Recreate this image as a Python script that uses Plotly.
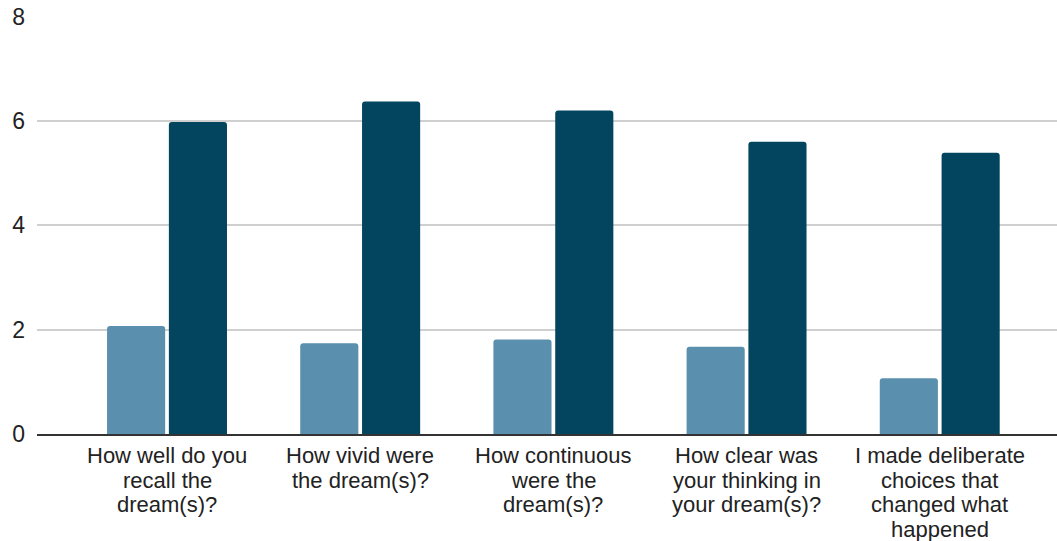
import plotly.graph_objects as go

categories = [
    ["How well do you", "recall the", "dream(s)?"],
    ["How vivid were", "the dream(s)?"],
    ["How continuous", "were the", "dream(s)?"],
    ["How clear was", "your thinking in", "your dream(s)?"],
    ["I made deliberate", "choices that", "changed what", "happened"],
]
series_a = [2.07, 1.74, 1.81, 1.67, 1.07]
series_b = [5.98, 6.37, 6.20, 5.60, 5.39]
y_ticks = [0, 2, 4, 6, 8]

x = list(range(len(categories)))

fig = go.Figure()
fig.add_trace(go.Bar(x=x, y=series_a, marker=dict(color="#5a8fad", line=dict(width=0)), name="A"))
fig.add_trace(go.Bar(x=x, y=series_b, marker=dict(color="#03445f", line=dict(width=0)), name="B"))

annotations = []
for i, lines in enumerate(categories):
    for k, line in enumerate(lines):
        annotations.append(dict(
            x=i, xref="x", y=0, yref="paper",
            text=line, showarrow=False,
            xanchor="center", yanchor="top",
            yshift=-(7 + k * 24.6),
            font=dict(family="Liberation Sans, Arial", size=22, color="#222222"),
        ))

fig.update_layout(
    width=1057, height=541,
    margin=dict(l=37, r=0, t=16, b=107),
    paper_bgcolor="white", plot_bgcolor="white",
    barmode="group", bargap=0.36, bargroupgap=0.06,
    barcornerradius=3,
    showlegend=False,
    font=dict(family="Liberation Sans, Arial", size=22, color="#222222"),
    annotations=annotations,
)
fig.update_xaxes(
    range=[-0.673, 4.607],
    tickvals=x, showticklabels=False,
    showgrid=False, showline=True, linecolor="#333333", linewidth=1.5,
    ticks="",
)
fig.update_yaxes(
    range=[0, 8.01], tickvals=y_ticks,
    showgrid=True, gridcolor="#d0d0d0", gridwidth=1.5,
    zeroline=False, showline=False, ticks="",
    ticklabelstandoff=11, tickfont=dict(size=23, color="#222222"),
)

fig.write_html("out.html")
